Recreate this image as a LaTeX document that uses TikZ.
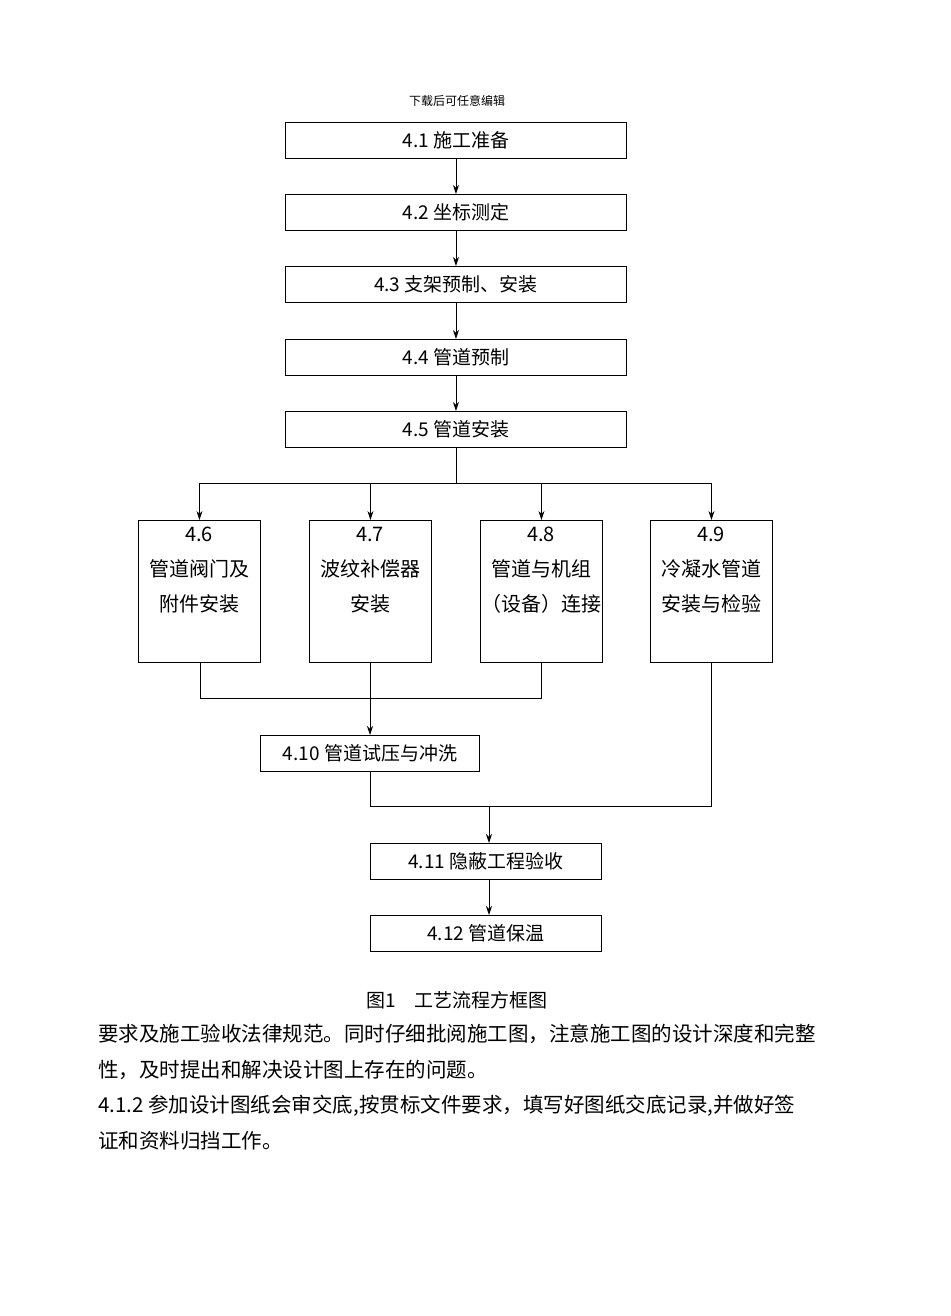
\documentclass[tikz,border=0pt]{standalone}
\usepackage{fontspec}
\setmainfont{Noto Sans CJK SC}
\usetikzlibrary{arrows.meta}
\begin{document}
\begin{tikzpicture}[x=1pt,y=-1pt,
  bx/.style={draw,line width=0.9pt,anchor=north west,inner sep=0pt,font=\fontsize{19}{22}\selectfont,align=center},
  ar/.style={line width=0.9pt,-{Stealth[length=9pt,width=6pt]}},
  ln/.style={line width=0.9pt}]
\useasboundingbox (0,0) rectangle (950,1316);
\node[font=\fontsize{12}{14}\selectfont] (hd) at (457,101) {下载后可任意编辑};
\node[bx,minimum width=341pt,minimum height=36pt] (b1) at (285,122) {4.1 施工准备};
\node[bx,minimum width=341pt,minimum height=36pt] (b2) at (285,194) {4.2 坐标测定};
\node[bx,minimum width=341pt,minimum height=36pt] (b3) at (285,266) {4.3 支架预制、安装};
\node[bx,minimum width=341pt,minimum height=36pt] (b4) at (285,339) {4.4 管道预制};
\node[bx,minimum width=341pt,minimum height=36pt] (b5) at (285,411) {4.5 管道安装};
\draw[ar] (b1.south) -- (b2.north);
\draw[ar] (b2.south) -- (b3.north);
\draw[ar] (b3.south) -- (b4.north);
\draw[ar] (b4.south) -- (b5.north);
\foreach \n/\x/\t in {6/138/{4.6\\管道阀门及\\附件安装},7/309/{4.7\\波纹补偿器\\安装},8/480/{4.8\\管道与机组\\（设备）连接},9/650/{4.9\\冷凝水管道\\安装与检验}}{
  \node[bx,minimum width=122pt,minimum height=142pt] (c\n) at (\x,520) {};
  \node[font=\fontsize{20}{35}\selectfont,align=center,anchor=north,inner sep=0pt] (t\n) at (\x+61,527) {\t};
}
\coordinate (s) at (b5.south |- 0,483);
\draw[ln] (b5.south) -- (s);
\draw[ln] (c6.north |- s) -- (c9.north |- s);
\foreach \n in {6,7,8,9}{\draw[ar] (c\n.north |- s) -- (c\n.north);}
\node[bx,minimum width=219pt,minimum height=36pt] (d) at (260,735) {4.10 管道试压与冲洗};
\coordinate (j1) at (200,698);
\draw[ln] (200,662) -- (j1) -- (541,698) -- (541,662);
\draw[ar] (370,662) -- (370,735);
\coordinate (j2) at (370,806);
\draw[ln] (370,771) -- (j2) -- (711,806) -- (711,662);
\node[bx,minimum width=231pt,minimum height=36pt] (e) at (370,843) {4.11 隐蔽工程验收};
\node[bx,minimum width=231pt,minimum height=36pt] (f) at (370,915) {4.12 管道保温};
\draw[ar] (489,806) -- (489,843);
\draw[ar] (489,879) -- (489,915);
\node[font=\fontsize{19}{22}\selectfont] (cap) at (457,1000) {图1\quad 工艺流程方框图};
\node[anchor=north west,align=left,font=\fontsize{20.5}{35.5}\selectfont,inner sep=0pt] (p) at (98,1024) {要求及施工验收法律规范。同时仔细批阅施工图，注意施工图的设计深度和完整\\性，及时提出和解决设计图上存在的问题。\\4.1.2 参加设计图纸会审交底,按贯标文件要求，填写好图纸交底记录,并做好签\\证和资料归挡工作。};
\end{tikzpicture}
\end{document}
